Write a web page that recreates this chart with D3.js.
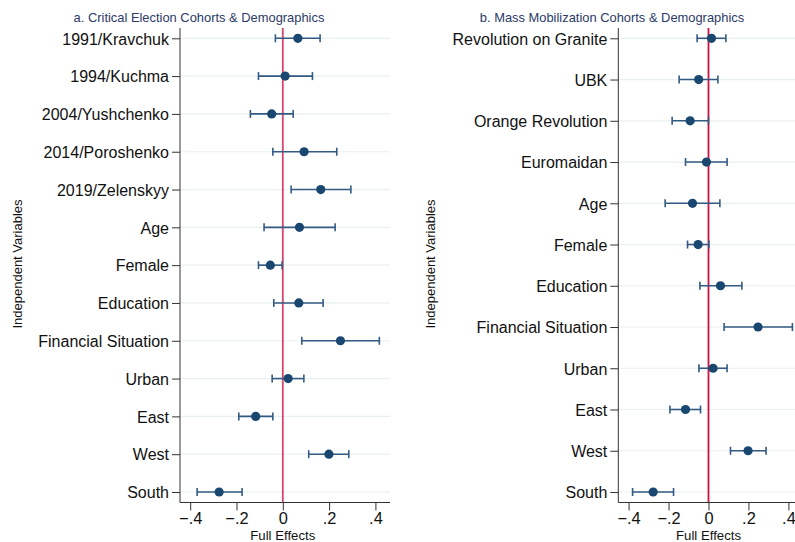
<!DOCTYPE html>
<html>
<head>
<meta charset="utf-8">
<script src="https://cdn.jsdelivr.net/npm/d3@7"></script>
<style>
  body { margin: 0; background: #fff; }
  svg { font-family: "Liberation Sans", Arial, sans-serif; }
</style>
</head>
<body>
<svg id="chart" width="795" height="542"></svg>
<script>
// panel a: critical election cohorts
var varsA = ["1991/Kravchuk", "1994/Kuchma", "2004/Yushchenko", "2014/Poroshenko", "2019/Zelenskyy",
    "Age", "Female", "Education", "Financial Situation", "Urban", "East", "West", "South"];
var estA = [0.065, 0.010, -0.048, 0.092, 0.164, 0.072, -0.054, 0.069, 0.249, 0.023, -0.117, 0.199, -0.275];
var lowA = [-0.032, -0.105, -0.140, -0.043, 0.036, -0.081, -0.105, -0.039, 0.082, -0.046, -0.190, 0.112, -0.370];
var highA = [0.161, 0.128, 0.045, 0.233, 0.294, 0.226, -0.003, 0.174, 0.417, 0.091, -0.043, 0.285, -0.176];

// panel b: mass mobilization cohorts
var varsB = ["Revolution on Granite", "UBK", "Orange Revolution", "Euromaidan",
    "Age", "Female", "Education", "Financial Situation", "Urban", "East", "West", "South"];
var estB = [0.015, -0.049, -0.092, -0.010, -0.080, -0.052, 0.060, 0.248, 0.023, -0.115, 0.198, -0.277];
var lowB = [-0.057, -0.147, -0.182, -0.115, -0.217, -0.105, -0.043, 0.078, -0.048, -0.193, 0.110, -0.380];
var highB = [0.087, 0.047, 0.000, 0.093, 0.057, 0.002, 0.167, 0.420, 0.093, -0.040, 0.288, -0.175];

var xTicks = [-0.4, -0.2, 0, 0.2, 0.4];
var tickFmt = function (d) { return d === 0 ? "0" : d3.format(".1f")(d).replace("0.", "."); };

var svg = d3.select("#chart");

function drawPanel(cfg) {
    var me = cfg;
    var g = svg.append("g");

    var x = d3.scaleLinear().domain(me.domain).range([me.left, me.right]);
    var y = d3.scalePoint().domain(me.vars).range([38.3, 492]);

    var rows = me.vars.map(function (v, i) {
        return { name: v, est: me.est[i], lo: me.low[i], hi: me.high[i] };
    });

    // gridlines
    g.selectAll(".grid")
        .data(me.vars)
        .enter()
        .append("line")
        .attr("x1", me.left)
        .attr("x2", me.right)
        .attr("y1", function (d) { return y(d); })
        .attr("y2", function (d) { return y(d); })
        .attr("stroke", "#e8f0f2")
        .attr("stroke-width", 1.2);

    // zero line
    g.append("line")
        .attr("x1", x(0)).attr("x2", x(0))
        .attr("y1", 28).attr("y2", 502.5)
        .attr("stroke", me.zeroColor)
        .attr("stroke-width", 1.8);

    // y axis
    var yAxis = d3.axisLeft(y).tickSize(8).tickPadding(3);
    var ya = g.append("g")
        .attr("transform", "translate(" + me.left + ",0)")
        .call(yAxis);
    ya.select(".domain").attr("d", "M0,28V502.5").attr("stroke", "#333");
    ya.selectAll(".tick line").attr("stroke", "#333");
    ya.selectAll(".tick text")
        .attr("fill", "#111")
        .style("font-size", "16px")
        .attr("dy", "0.36em");

    // x axis
    var xAxis = d3.axisBottom(x).tickValues(xTicks).tickFormat(tickFmt).tickSize(8).tickPadding(2);
    var xa = g.append("g")
        .attr("transform", "translate(0,502.5)")
        .call(xAxis);
    xa.select(".domain").attr("d", "M" + me.left + ",0H" + me.right).attr("stroke", "#333");
    xa.selectAll(".tick line").attr("stroke", "#333");
    xa.selectAll(".tick text")
        .attr("fill", "#111")
        .style("font-size", "16.4px");

    // CI lines
    var ci = g.selectAll(".ci")
        .data(rows)
        .enter()
        .append("g");
    ci.append("line")
        .attr("x1", function (d) { return x(d.lo); })
        .attr("x2", function (d) { return x(d.hi); })
        .attr("y1", function (d) { return y(d.name); })
        .attr("y2", function (d) { return y(d.name); })
        .attr("stroke", "#325a82")
        .attr("stroke-width", 1.6);
    ci.append("line")
        .attr("x1", function (d) { return x(d.lo); })
        .attr("x2", function (d) { return x(d.lo); })
        .attr("y1", function (d) { return y(d.name) - 4; })
        .attr("y2", function (d) { return y(d.name) + 4; })
        .attr("stroke", "#325a82")
        .attr("stroke-width", 1.6);
    ci.append("line")
        .attr("x1", function (d) { return x(d.hi); })
        .attr("x2", function (d) { return x(d.hi); })
        .attr("y1", function (d) { return y(d.name) - 4; })
        .attr("y2", function (d) { return y(d.name) + 4; })
        .attr("stroke", "#325a82")
        .attr("stroke-width", 1.6);
    ci.append("circle")
        .attr("cx", function (d) { return x(d.est); })
        .attr("cy", function (d) { return y(d.name); })
        .attr("r", 4.6)
        .attr("fill", "#1a476f");

    // titles
    g.append("text")
        .text(me.title)
        .attr("x", me.titleX)
        .attr("y", 22)
        .attr("text-anchor", "middle")
        .attr("fill", "#2b3a67")
        .style("font-size", "12.9px");

    g.append("text")
        .text("Full Effects")
        .attr("x", x(0))
        .attr("y", 540)
        .attr("text-anchor", "middle")
        .attr("fill", "#111")
        .style("font-size", "13.2px");

    g.append("text")
        .text("Independent Variables")
        .attr("transform", "translate(" + me.yTitleX + ",264) rotate(-90)")
        .attr("text-anchor", "middle")
        .attr("fill", "#111")
        .style("font-size", "13px");
}

drawPanel({
    vars: varsA, est: estA, low: lowA, high: highA,
    domain: [-0.444, 0.463], left: 180, right: 390,
    zeroColor: "#d6456b",
    title: "a. Critical Election Cohorts & Demographics", titleX: 199, yTitleX: 22
});

drawPanel({
    vars: varsB, est: estB, low: lowB, high: highB,
    domain: [-0.4515, 0.433], left: 618.3, right: 795,
    zeroColor: "#d0103f",
    title: "b. Mass Mobilization Cohorts & Demographics", titleX: 612, yTitleX: 435
});
</script>
</body>
</html>
